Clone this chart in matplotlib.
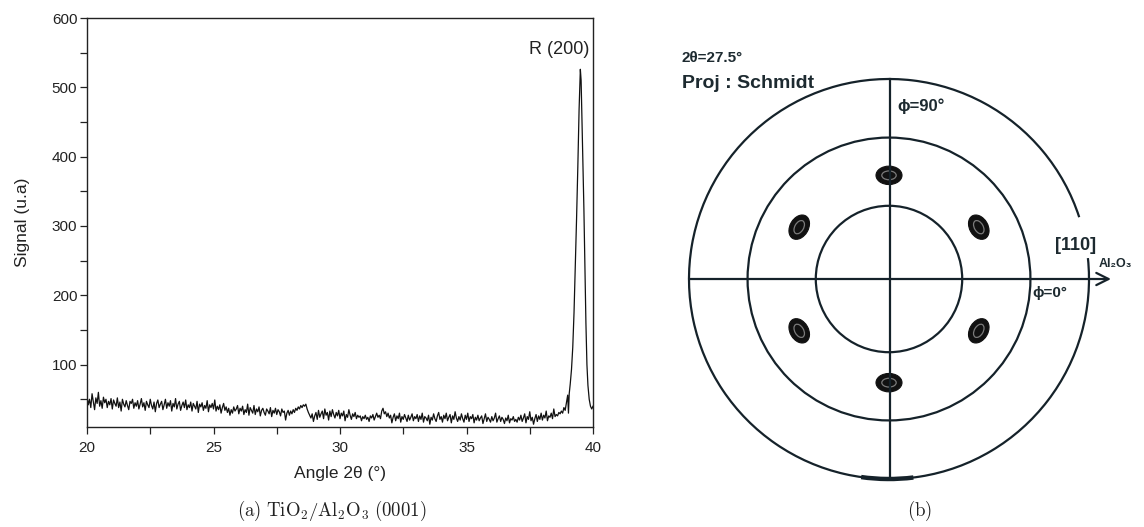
import numpy as np
import matplotlib
matplotlib.use("Agg")
import matplotlib.pyplot as plt
from matplotlib.patches import Arc, Ellipse, Circle

# ---------------- data: XRD scan (left panel) ----------------
scan_start, scan_step = 20.0, 0.05
baseline = [
    55, 42, 50, 38, 58, 46, 35, 52, 44, 60, 40, 48, 37, 53, 45, 50, 38, 47, 42, 51,
    36, 49, 44, 40, 52, 38, 46, 33, 50, 43, 39, 48, 41, 35, 47, 44, 50, 37, 45, 40,
    48, 36, 43, 51, 39, 45, 34, 47, 42, 38, 50, 41, 36, 46, 32, 44, 49, 38, 43, 47,
    35, 42, 50, 37, 45, 40, 48, 33, 44, 39, 51, 36, 43, 47, 34, 41, 46, 38, 49, 35,
    42, 38, 46, 33, 44, 40, 36, 47, 31, 43, 39, 45, 34, 41, 37, 48, 32, 42, 38, 44,
    36, 49, 33, 40, 35, 42, 30, 38, 44, 34, 39, 31, 37, 27, 35, 30, 39, 33, 36, 41,
    29, 37, 33, 40, 28, 35, 31, 43, 27, 38, 34, 30, 41, 28, 36, 32, 39, 26, 34, 37,
    31, 27, 36, 33, 29, 38, 25, 34, 30, 37, 28, 35, 32, 26, 36, 31, 33, 20, 30, 34,
    27, 33, 29, 35, 31, 37, 34, 39, 36, 41, 38, 42, 40, 43, 36, 31, 27, 23, 29, 18,
    26, 31, 21, 34, 24, 29, 33, 22, 36, 27, 31, 20, 33, 25, 35, 28, 23, 31, 26, 34,
    22, 30, 26, 33, 19, 28, 24, 35, 27, 21, 29, 25, 31, 22, 27, 24, 26, 19, 25, 22,
    27, 21, 24, 18, 26, 23, 28, 20, 25, 30, 24, 27, 22, 33, 37, 29, 32, 25, 30, 23,
    27, 16, 24, 29, 19, 26, 22, 30, 17, 25, 21, 28, 23, 18, 27, 20, 24, 29, 19, 25,
    22, 28, 18, 26, 21, 30, 17, 25, 23, 19, 27, 14, 24, 20, 29, 22, 18, 26, 31, 21,
    25, 17, 27, 22, 30, 19, 24, 28, 16, 26, 21, 32, 23, 18, 25, 20, 29, 22, 17, 27,
    21, 30, 18, 25, 22, 28, 16, 24, 20, 27, 19, 23, 26, 15, 22, 29, 18, 24, 21, 17,
    25, 19, 23, 30, 17, 22, 26, 18, 24, 21, 15, 23, 19, 27, 16, 22, 20, 25, 18, 21,
    17, 24, 20, 27, 18, 23, 29, 16, 25, 21, 32, 19, 24, 14, 22, 28, 18, 26, 21, 30,
    20, 27, 23, 33, 19, 26, 24, 30, 22, 36, 25, 28, 26, 31, 29, 33, 30, 38, 34, 45,
]
peak_angle = [39.00, 39.03, 39.06, 39.10, 39.15, 39.20, 39.25, 39.30, 39.35, 39.40,
              39.45, 39.50, 39.53, 39.56, 39.60, 39.64, 39.68, 39.72, 39.76, 39.80,
              39.85, 39.90, 39.95, 40.00]
peak_signal = [56, 30, 58, 72, 93, 125, 175, 240, 310, 385,
               468, 526, 510, 460, 395, 325, 240, 160, 100, 70,
               50, 40, 36, 40]
peak_label = "R (200)"

# ---------------- data: pole figure (right panel) ----------------
ring_psi = [30, 60, 90]                 # degrees, Schmidt projection
spot_phi = [30, 90, 150, 210, 270, 330]  # degrees
spot_psi = 43                           # degrees

# ---------------- figure ----------------
W, H = 1144, 527
fig = plt.figure(figsize=(W / 100, H / 100), dpi=100)
fig.patch.set_facecolor("white")

# ---- left panel ----
ax = fig.add_axes([87 / W, 1 - 427 / H, 506 / W, 409 / H])
angles = scan_start + scan_step * np.arange(len(baseline))
x = np.concatenate([angles, peak_angle])
y = np.concatenate([baseline, peak_signal])
ax.plot(x, y, color="#111111", lw=0.9)
ax.set_xlim(20, 40)
ax.set_ylim(10, 600)
ax.set_xticks([20, 25, 30, 35, 40])
ax.set_xticks([22.5, 27.5, 32.5, 37.5], minor=True)
ax.set_yticks([100, 200, 300, 400, 500, 600])
ax.set_yticks([50, 150, 250, 350, 450, 550], minor=True)
lab_font = dict(family=["Liberation Sans", "DejaVu Sans"])
for lbl in ax.get_xticklabels() + ax.get_yticklabels():
    lbl.set_fontfamily(["Liberation Sans", "DejaVu Sans"])
    lbl.set_fontsize(11)
    lbl.set_color("#222222")
ax.tick_params(axis="both", which="both", direction="out", length=5, width=0.9,
               color="#222222", top=False, right=False)
ax.tick_params(axis="x", which="both", pad=5)
ax.tick_params(axis="y", which="both", pad=2)
for s in ax.spines.values():
    s.set_linewidth(1.0)
    s.set_color("#222222")
ax.set_xlabel("Angle 2θ (°)", fontsize=12.5, labelpad=8, color="#222222", **lab_font)
ax.set_ylabel("Signal (u.a)", fontsize=12.5, labelpad=16, color="#222222", **lab_font)
ax.text(39.86, 555, peak_label, ha="right", va="center", fontsize=13,
        color="#222222", **lab_font)

plt.rcParams["mathtext.fontset"] = "cm"
fig.text(332 / W, 1 - 511 / H, r"$\mathrm{(a)\ TiO_2/Al_2O_3\ (0001)}$",
         ha="center", va="center", fontsize=13.5, color="#222222")
fig.text(920 / W, 1 - 511 / H, r"$\mathrm{(b)}$", ha="center", va="center",
         fontsize=13.5, color="#222222")

# ---- right panel ----
R = 200.0
cx, cy = 889, 279
ax2 = fig.add_axes([660 / W, 1 - 500 / H, 484 / W, 470 / H])
ax2.set_xlim((660 - cx) / R, (1144 - cx) / R)
ax2.set_ylim((cy - 500) / R, (cy - 30) / R)
ax2.axis("off")

ink = "#15222a"

def schmidt(psi_deg):
    return np.sqrt(2) * np.sin(np.radians(psi_deg) / 2)

rmax = schmidt(90)
for psi in ring_psi:
    r = schmidt(psi) / rmax
    if psi == 90:
        ax2.add_patch(Arc((0, 0), 2 * r, 2 * r, theta1=18, theta2=366,
                          color=ink, lw=1.6))
        ax2.add_patch(Arc((0, 0), 2 * r, 2 * r, theta1=262, theta2=277,
                          color=ink, lw=3.2))
    else:
        ax2.add_patch(Circle((0, 0), r, fill=False, color=ink, lw=1.6))

ax2.plot([0.005, 0.005], [-1.0, 1.0], color=ink, lw=1.6)
ax2.annotate("", xy=(1.11, 0.0), xytext=(-1.0, 0.0),
             arrowprops=dict(arrowstyle="->", color=ink, lw=1.6,
                             mutation_scale=22, shrinkA=0, shrinkB=0))

rs = schmidt(spot_psi) / rmax
for phi in spot_phi:
    px, py = rs * np.cos(np.radians(phi)), rs * np.sin(np.radians(phi))
    ax2.add_patch(Ellipse((px, py), 0.13, 0.092, angle=phi + 90,
                          facecolor="#111111", edgecolor="#111111", lw=0.8))
    ax2.add_patch(Ellipse((px, py), 0.072, 0.044, angle=phi + 90,
                          facecolor="none", edgecolor="#7a7a7a", lw=0.9))
    ax2.add_patch(Ellipse((px, py), 0.025, 0.015, angle=phi + 90,
                          facecolor="#111111", edgecolor="#111111", lw=0.5))

tf = dict(family=["Liberation Sans", "DejaVu Sans"], weight="bold", color="#1d2a30")
ax2.text((682 - cx) / R, (cy - 58) / R, "2θ=27.5°", ha="left", va="center",
         fontsize=11, **tf)
ax2.text((682 - cx) / R, (cy - 84) / R, "Proj : Schmidt", ha="left", va="center",
         fontsize=14, **tf)
ax2.text((897 - cx) / R, (cy - 106) / R, "ϕ=90°", ha="left", va="center",
         fontsize=12, **tf)
ax2.text((1032 - cx) / R, (cy - 293) / R, "ϕ=0°", ha="left", va="center",
         fontsize=11, **tf)
ax2.text((1055 - cx) / R, (cy - 245) / R, "[110]", ha="left", va="center",
         fontsize=13, **tf)
ax2.text((1099 - cx) / R, (cy - 264) / R, "Al₂O₃", ha="left", va="center",
         fontsize=9, **tf)

fig.savefig("out.png", dpi=100, facecolor="white")
